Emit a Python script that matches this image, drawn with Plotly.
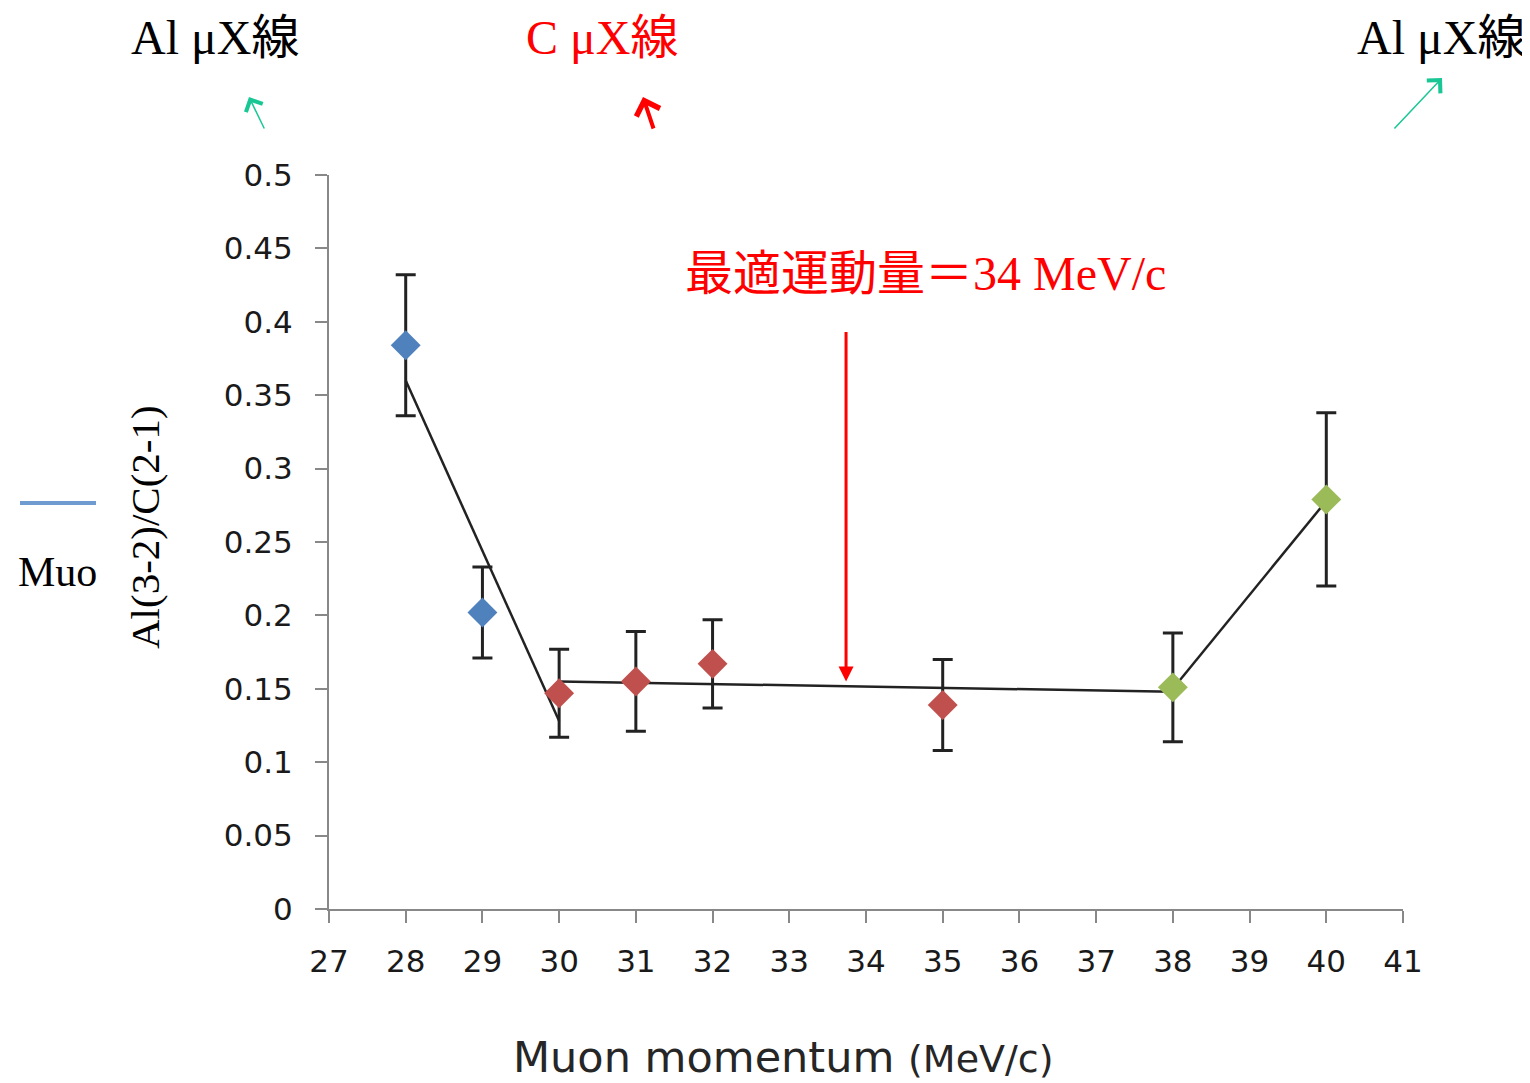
import plotly.graph_objects as go

# ---- data ----
momentum_blue = [28, 29]
ratio_blue = [0.384, 0.202]
err_blue = [0.048, 0.031]

momentum_red = [30, 31, 32, 35]
ratio_red = [0.147, 0.155, 0.167, 0.139]
err_red = [0.030, 0.034, 0.030, 0.031]

momentum_green = [38, 40]
ratio_green = [0.151, 0.279]
err_green = [0.037, 0.059]

fit1_x = [28, 30]
fit1_y = [0.360, 0.128]
fit2_x = [30, 38]
fit2_y = [0.155, 0.148]
fit3_x = [38, 40]
fit3_y = [0.150, 0.278]

x_ticks = list(range(27, 42))
y_ticks = [0, 0.05, 0.1, 0.15, 0.2, 0.25, 0.3, 0.35, 0.4, 0.45, 0.5]
y_ticktext = ["0", "0.05", "0.1", "0.15", "0.2", "0.25", "0.3", "0.35", "0.4", "0.45", "0.5"]

optimum_x = 33.74
arrow_top_y = 0.394
arrow_tip_y = 0.155

SERIF = "Liberation Serif, Times New Roman, Noto Sans CJK JP, serif"
SANS = "DejaVu Sans, Verdana, sans-serif"
LINE_COLOR = "#222222"

fig = go.Figure()

for fx, fy in [(fit1_x, fit1_y), (fit2_x, fit2_y), (fit3_x, fit3_y)]:
    fig.add_trace(go.Scatter(x=fx, y=fy, mode="lines",
                             line=dict(color=LINE_COLOR, width=2.5),
                             showlegend=False, hoverinfo="skip"))

for xs, ys, es, col in [(momentum_blue, ratio_blue, err_blue, "#4f81bd"),
                        (momentum_red, ratio_red, err_red, "#c0504d"),
                        (momentum_green, ratio_green, err_green, "#9bbb59")]:
    fig.add_trace(go.Scatter(
        x=xs, y=ys, mode="markers",
        marker=dict(symbol="diamond", size=23, color=col, line=dict(width=0)),
        error_y=dict(type="data", array=es, visible=True, color=LINE_COLOR,
                     thickness=3, width=10),
        showlegend=False))


def ptxt(x, y, text, size, color, family=SERIF, angle=0):
    return dict(x=x, y=y, xref="paper", yref="paper", text=text,
                showarrow=False, xanchor="center", yanchor="middle",
                textangle=angle,
                font=dict(family=family, size=size, color=color))


PX0, PY0, PW, PH = 329, 909, 1074, 734


def px(x):
    return (x - PX0) / PW


def py(y):
    return (PY0 - y) / PH


annotations = [
    # optimum arrow
    dict(x=optimum_x, y=arrow_tip_y, ax=optimum_x, ay=arrow_top_y,
         xref="x", yref="y", axref="x", ayref="y", text="",
         showarrow=True, arrowhead=2, arrowsize=1, arrowwidth=3,
         arrowcolor="#ff0000", standoff=0),
    dict(x=34.77, y=0.4326, xref="x", yref="y",
         text="最適運動量＝34 MeV/c", showarrow=False,
         xanchor="center", yanchor="middle",
         font=dict(family=SERIF, size=48, color="#ff0000")),
    # top labels
    ptxt(px(215), py(37), "Al μX線", 48, "#000000"),
    ptxt(px(602), py(37), "C μX線", 48, "#ff0000"),
    ptxt(px(1441), py(37), "Al μX線", 48, "#000000"),
    # top small arrows
    dict(x=px(249), y=py(97), xref="paper", yref="paper", text="",
         showarrow=True, ax=16, ay=33, arrowhead=4, arrowsize=2.4,
         arrowwidth=1.5, arrowcolor="#19c795", standoff=0),
    dict(x=px(1442), y=py(78), xref="paper", yref="paper", text="",
         showarrow=True, ax=-49, ay=52, arrowhead=4, arrowsize=2.4,
         arrowwidth=1.5, arrowcolor="#19c795", standoff=0),
    dict(x=px(643), y=py(97), xref="paper", yref="paper", text="",
         showarrow=True, ax=11, ay=33, arrowhead=4, arrowsize=1.2,
         arrowwidth=4, arrowcolor="#ff0000", standoff=0),
    # cropped legend text
    ptxt(px(57), py(572), "Muo", 42, "#000000"),
    # y axis title
    ptxt(px(145), py(527), "Al(3-2)/C(2-1)", 41, "#000000", angle=-90),
    # x axis title
    ptxt(px(783), py(1057),
         "Muon momentum <span style='font-size:38px'>(MeV/c)</span>",
         43, "#262626", family=SANS),
]

# the page body adds an 8px offset; compensate so the plot area lands at 329..1403 x 175..909
OFF = 8
fig.update_layout(
    width=1530, height=1083,
    margin=dict(l=PX0 - OFF, r=1530 - (PX0 - OFF) - PW, t=175 - OFF,
                b=1083 - (175 - OFF) - PH),
    paper_bgcolor="white", plot_bgcolor="white",
    showlegend=False,
    annotations=annotations,
    shapes=[dict(type="line", xref="paper", yref="paper",
                 x0=px(20), x1=px(96), y0=py(503), y1=py(503),
                 line=dict(color="#6f9bd1", width=4))],
    xaxis=dict(range=[27, 41], tickmode="array", tickvals=x_ticks,
               ticks="outside", ticklen=12, tickwidth=2, tickcolor="#888888",
               showline=True, linecolor="#888888", linewidth=2,
               showgrid=False, zeroline=False,
               tickfont=dict(family=SANS, size=31, color="#1a1a1a"),
               ticklabelstandoff=12),
    yaxis=dict(range=[0, 0.5], tickmode="array", tickvals=y_ticks,
               ticktext=y_ticktext,
               ticks="outside", ticklen=12, tickwidth=2, tickcolor="#888888",
               showline=True, linecolor="#888888", linewidth=2,
               showgrid=False, zeroline=False,
               tickfont=dict(family=SANS, size=31, color="#1a1a1a"),
               ticklabelstandoff=16),
)

fig.write_html("out.html")
